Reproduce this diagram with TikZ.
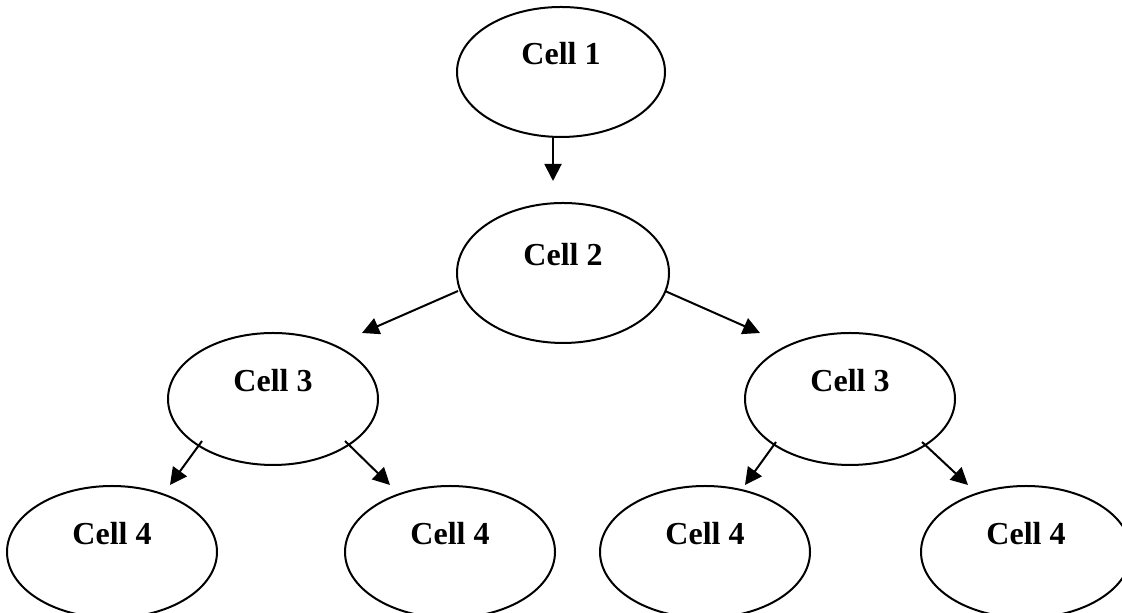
\documentclass[tikz,border=0pt]{standalone}
\usepackage{fontspec}
\setmainfont{Liberation Serif}
\usetikzlibrary{shapes.geometric}
\usetikzlibrary{arrows.meta}
\usetikzlibrary{calc}

\begin{document}
\begin{tikzpicture}[x=0.5pt,y=0.5pt,
    cell/.style={
% The shape:
ellipse,
% The size:
minimum width=105pt,
minimum height=66pt,
inner sep=0pt,
% The border:
line width=1pt, draw,
% The text:
align=center,
font=\bfseries\fontsize{16}{19}\selectfont,
},
    link/.style={
line width=1pt,
-{Triangle[length=8.5pt,width=8.5pt]},
},
]
  \useasboundingbox (0,0) rectangle (1122,613);

  \node[cell,minimum width=104pt,minimum height=65pt]
                               (c1)  at (561, 541) {Cell 1\\~};
  \node[cell,minimum width=106pt,minimum height=70pt]
                               (c2)  at (563, 340) {Cell 2\\~};
  \node[cell]                  (c3a) at (273, 214) {Cell 3\\~};
  \node[cell]                  (c3b) at (850, 214) {Cell 3\\~};
  \node[cell]                  (c4a) at (112, 61)  {Cell 4\\~};
  \node[cell]                  (c4b) at (450, 61)  {Cell 4\\~};
  \node[cell]                  (c4c) at (705, 61)  {Cell 4\\~};
  \node[cell]                  (c4d) at (1026, 61) {Cell 4\\~};

  \draw [link] ($(c1)+(-8,-65)$)   -- ($(c2)+(-10,92)$);
  \draw [link] ($(c2)+(-105,-18)$) -- ($(c3a)+(89,66)$);
  \draw [link] ($(c2)+(102,-18)$)  -- ($(c3b)+(-90,66)$);
  \draw [link] ($(c3a)+(-71,-42)$) -- ($(c4a)+(58,67)$);
  \draw [link] ($(c3a)+(72,-42)$)  -- ($(c4b)+(-60,67)$);
  \draw [link] ($(c3b)+(-74,-43)$) -- ($(c4c)+(40,67)$);
  \draw [link] ($(c3b)+(72,-43)$)  -- ($(c4d)+(-58,67)$);

\end{tikzpicture}
\end{document}
